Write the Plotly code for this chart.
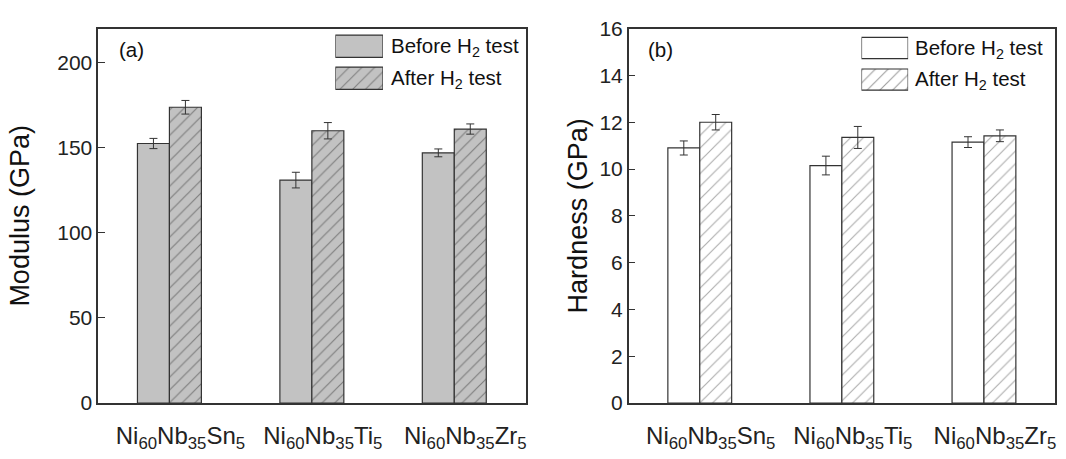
import plotly.graph_objects as go

# Alloy compositions (category axis)
alloys = [
    "Ni<sub>60</sub>Nb<sub>35</sub>Sn<sub>5</sub>",
    "Ni<sub>60</sub>Nb<sub>35</sub>Ti<sub>5</sub>",
    "Ni<sub>60</sub>Nb<sub>35</sub>Zr<sub>5</sub>",
]
positions = [0, 1, 2]

# Elastic modulus (GPa)
modulus_before = [152.5, 131.0, 147.0]
modulus_before_err = [3.0, 4.6, 2.3]
modulus_after = [173.8, 160.0, 161.0]
modulus_after_err = [4.0, 4.8, 3.0]

# Hardness (GPa)
hardness_before = [10.9, 10.15, 11.15]
hardness_before_err = [0.3, 0.4, 0.23]
hardness_after = [12.0, 11.35, 11.42]
hardness_after_err = [0.33, 0.47, 0.25]

legend_labels = ["Before H<sub>2</sub> test", "After H<sub>2</sub> test"]

W, H = 1066, 459
FONT = "Liberation Sans, Arial, sans-serif"
EDGE = "#333333"
GREY = "#c2c2c2"
HATCH_A = "#3a3a3a"
HATCH_B = "#5e5e5e"


def px(x):
    return x / W


def py(y):
    return 1 - y / H


def err(vals):
    return dict(type="data", array=vals, color=EDGE, thickness=1, width=4)


def hatch(bg, fg):
    return dict(shape="/", size=9, solidity=0.13, bgcolor=bg, fgcolor=fg, fillmode="overlay")


line = dict(color=EDGE, width=1.2)
fig = go.Figure()

# Panel (a): modulus
fig.add_trace(go.Bar(x=positions, y=modulus_before, error_y=err(modulus_before_err),
                     marker=dict(color=GREY, line=line), xaxis="x", yaxis="y", showlegend=False))
fig.add_trace(go.Bar(x=positions, y=modulus_after, error_y=err(modulus_after_err),
                     marker=dict(color=GREY, line=line, pattern=hatch(GREY, HATCH_A)),
                     xaxis="x", yaxis="y", showlegend=False))

# Panel (b): hardness
fig.add_trace(go.Bar(x=positions, y=hardness_before, error_y=err(hardness_before_err),
                     marker=dict(color="white", line=line), xaxis="x2", yaxis="y2", showlegend=False))
fig.add_trace(go.Bar(x=positions, y=hardness_after, error_y=err(hardness_after_err),
                     marker=dict(color="white", line=line, pattern=hatch("white", HATCH_B)),
                     xaxis="x2", yaxis="y2", showlegend=False))

# Legend keys drawn as bars on small hidden axes
fig.add_trace(go.Bar(orientation="h", x=[1, 1], y=[1, 0], width=0.695, base=0,
                     marker=dict(color=[GREY, GREY], line=line,
                                 pattern=dict(shape=["", "/"], size=9, solidity=0.13,
                                              bgcolor=GREY, fgcolor=HATCH_A, fillmode="overlay")),
                     cliponaxis=False, xaxis="x3", yaxis="y3", showlegend=False, hoverinfo="skip"))
fig.add_trace(go.Bar(orientation="h", x=[1, 1], y=[1, 0], width=0.67, base=0,
                     marker=dict(color=["white", "white"], line=line,
                                 pattern=dict(shape=["", "/"], size=9, solidity=0.13,
                                              bgcolor="white", fgcolor=HATCH_B, fillmode="overlay")),
                     cliponaxis=False, xaxis="x4", yaxis="y4", showlegend=False, hoverinfo="skip"))

xcommon = dict(range=[-0.5, 2.5], tickvals=positions, ticktext=alloys, ticks="",
               showline=True, linecolor=EDGE, linewidth=1.5, mirror=True,
               showgrid=False, zeroline=False, tickfont=dict(size=24, color="#222"),
               ticklabelstandoff=10, ticklabelshift=11)
ycommon = dict(showline=True, linecolor=EDGE, linewidth=1.5, mirror=True,
               ticks="inside", ticklen=7, tickwidth=1.2, tickcolor=EDGE,
               showgrid=False, zeroline=False, tickfont=dict(size=21, color="#222"),
               title_font=dict(size=27, color="#111"))
hidden = dict(visible=False, fixedrange=True)

fig.update_layout(
    width=W, height=H,
    margin=dict(l=0, r=0, t=0, b=0),
    paper_bgcolor="white", plot_bgcolor="white",
    font=dict(family=FONT, color="#222"),
    barmode="group", bargap=0.551, bargroupgap=0,
    xaxis=dict(domain=[px(98.3), px(526)], anchor="y", **xcommon),
    yaxis=dict(domain=[py(411.7), py(17.5)], anchor="x", range=[0, 220],
               tickvals=[0, 50, 100, 150, 200], title_text="Modulus (GPa)",
               title_standoff=20, **ycommon),
    xaxis2=dict(domain=[px(629.3), px(1056)], anchor="y2", **xcommon),
    yaxis2=dict(domain=[py(411.7), py(17.5)], anchor="x2", range=[0, 16],
                tickvals=list(range(0, 17, 2)), title_text="Hardness (GPa)",
                title_standoff=4, **ycommon),
    xaxis3=dict(domain=[px(335.7), px(383.3)], anchor="y3", range=[0, 1], **hidden),
    yaxis3=dict(domain=[py(86.5), py(19.2)], anchor="x3", range=[-0.5, 1.5], **hidden),
    xaxis4=dict(domain=[px(862.3), px(909)], anchor="y4", range=[0, 1], **hidden),
    yaxis4=dict(domain=[py(87.8), py(21.2)], anchor="x4", range=[-0.5, 1.5], **hidden),
)

annotations = [
    dict(text="(a)", x=px(117), y=py(40), xanchor="left", yanchor="middle"),
    dict(text="(b)", x=px(647), y=py(40), xanchor="left", yanchor="middle"),
    dict(text=legend_labels[0], x=px(389), y=py(37), xanchor="left", yanchor="middle"),
    dict(text=legend_labels[1], x=px(389), y=py(71), xanchor="left", yanchor="middle"),
    dict(text=legend_labels[0], x=px(914), y=py(39), xanchor="left", yanchor="middle"),
    dict(text=legend_labels[1], x=px(914), y=py(72), xanchor="left", yanchor="middle"),
]
for a in annotations:
    fig.add_annotation(xref="paper", yref="paper", showarrow=False,
                       font=dict(size=20.5, color="#111", family=FONT), **a)

fig.write_html("out.html")
